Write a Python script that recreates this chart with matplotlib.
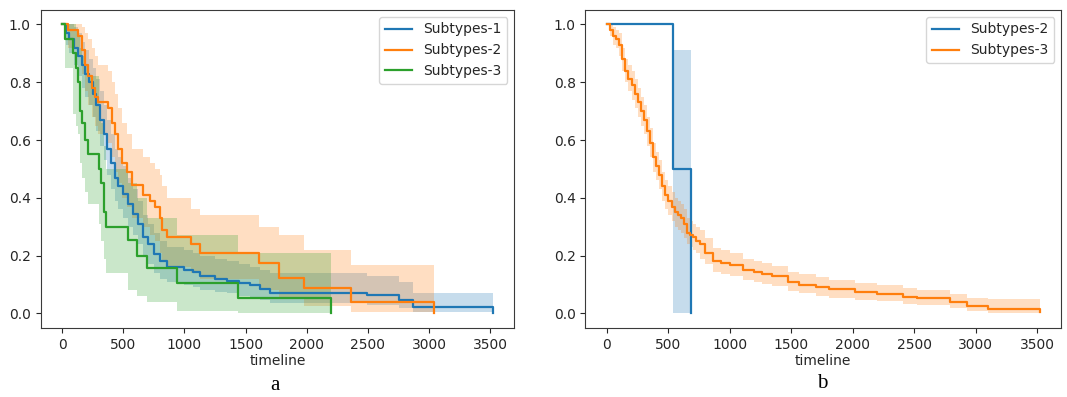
"""
Kaplan-Meier style survival curves for the subtypes, two panels (a, b).
Saves out.png (~1067x397).
"""

import matplotlib
matplotlib.use("Agg")
import matplotlib.pyplot as plt

# -----------------------------------------------------------------------
# Data
# -----------------------------------------------------------------------

# panel a, Subtypes-1
a1_time  = [0, 30, 60, 100, 130, 160, 190, 220, 250, 280, 310, 340, 370, 400, 430, 460,
            500, 540, 580, 620, 665, 700, 750, 800, 860, 1000, 1074, 1128, 1250, 1346,
            1450, 1537, 1620, 1700, 2490, 2750, 2870, 3520]
a1_surv  = [1.0, 0.97, 0.95, 0.92, 0.89, 0.86, 0.83, 0.80, 0.76, 0.72, 0.67, 0.62, 0.57,
            0.52, 0.47, 0.44, 0.414, 0.38, 0.345, 0.31, 0.264, 0.24, 0.206, 0.18, 0.16,
            0.15, 0.143, 0.128, 0.12, 0.114, 0.105, 0.097, 0.085, 0.072, 0.063, 0.045,
            0.023, 0.0]
a1_upper = [1.0, 1.0, 1.0, 0.99, 0.97, 0.94, 0.91, 0.88, 0.85, 0.81, 0.77, 0.72, 0.67,
            0.62, 0.57, 0.54, 0.51, 0.47, 0.43, 0.39, 0.34, 0.31, 0.28, 0.25, 0.23,
            0.22, 0.21, 0.20, 0.19, 0.18, 0.17, 0.16, 0.15, 0.14, 0.13, 0.11, 0.072,
            0.072]
a1_lower = [1.0, 0.93, 0.90, 0.86, 0.82, 0.78, 0.75, 0.72, 0.68, 0.63, 0.58, 0.53, 0.48,
            0.43, 0.39, 0.36, 0.33, 0.30, 0.27, 0.24, 0.20, 0.17, 0.14, 0.12, 0.11,
            0.10, 0.09, 0.08, 0.075, 0.07, 0.06, 0.05, 0.045, 0.035, 0.03, 0.02, 0.005,
            0.005]

# panel a, Subtypes-2
a2_time  = [0, 50, 134, 160, 188, 215, 243, 270, 297, 379, 405, 433, 460, 488, 529, 570,
            660, 720, 760, 800, 820, 860, 1050, 1130, 1610, 1770, 1980, 2360, 3040]
a2_surv  = [1.0, 0.98, 0.96, 0.91, 0.86, 0.82, 0.78, 0.75, 0.73, 0.71, 0.66, 0.62, 0.57,
            0.52, 0.49, 0.443, 0.41, 0.39, 0.37, 0.33, 0.29, 0.265, 0.24, 0.21, 0.173,
            0.123, 0.0865, 0.04, 0.0]
a2_upper = [1.0, 1.0, 1.0, 0.99, 0.97, 0.95, 0.92, 0.89, 0.86, 0.84, 0.80, 0.76, 0.71,
            0.66, 0.62, 0.57, 0.54, 0.52, 0.50, 0.48, 0.44, 0.40, 0.36, 0.34, 0.30, 0.27,
            0.22, 0.167, 0.167]
a2_lower = [1.0, 0.92, 0.89, 0.83, 0.77, 0.72, 0.68, 0.65, 0.62, 0.59, 0.54, 0.49, 0.45,
            0.40, 0.37, 0.33, 0.30, 0.27, 0.25, 0.21, 0.18, 0.16, 0.14, 0.12, 0.08, 0.05,
            0.025, 0.005, 0.005]

# panel a, Subtypes-3
a3_time  = [0, 20, 90, 110, 130, 145, 161, 190, 215, 300, 320, 340, 360, 540, 610, 690,
            940, 1440, 2200]
a3_surv  = [1.0, 0.95, 0.90, 0.85, 0.80, 0.70, 0.66, 0.60, 0.553, 0.50, 0.45, 0.35, 0.30,
            0.254, 0.20, 0.156, 0.104, 0.052, 0.0]
a3_upper = [1.0, 1.0, 1.0, 0.98, 0.96, 0.92, 0.89, 0.86, 0.82, 0.72, 0.66, 0.58, 0.50,
            0.45, 0.40, 0.33, 0.27, 0.21, 0.21]
a3_lower = [1.0, 0.85, 0.69, 0.65, 0.62, 0.52, 0.47, 0.42, 0.38, 0.31, 0.25, 0.19, 0.14,
            0.08, 0.06, 0.04, 0.01, 0.003, 0.003]

# panel b, Subtypes-2
b2_time  = [0, 534, 684]
b2_surv  = [1.0, 0.50, 0.0]
b2_upper = [1.0, 0.911, 0.911]
b2_lower = [1.0, 0.003, 0.003]

# panel b, Subtypes-3
b3_time  = [0, 25, 50, 75, 100, 125, 150, 175, 200, 225, 250, 275, 300, 325, 350, 375,
            400, 425, 450, 475, 500, 525, 550, 575, 600, 625, 650, 675, 700, 725, 757,
            800, 862, 930, 1000, 1110, 1200, 1260, 1340, 1475, 1560, 1700, 1810, 2018,
            2200, 2410, 2520, 2790, 2930, 3100, 3520]
b3_surv  = [1.0, 0.98, 0.96, 0.95, 0.93, 0.88, 0.84, 0.81, 0.79, 0.76, 0.73, 0.70, 0.67,
            0.63, 0.59, 0.54, 0.51, 0.48, 0.44, 0.41, 0.39, 0.37, 0.35, 0.34, 0.33, 0.31,
            0.28, 0.27, 0.265, 0.25, 0.24, 0.21, 0.183, 0.176, 0.168, 0.149, 0.142,
            0.137, 0.129, 0.108, 0.100, 0.092, 0.083, 0.074, 0.068, 0.057, 0.052, 0.04,
            0.025, 0.0145, 0.005]
b3_upper = [1.0, 1.0, 0.99, 0.98, 0.97, 0.92, 0.88, 0.86, 0.84, 0.81, 0.78, 0.75, 0.72,
            0.68, 0.64, 0.59, 0.56, 0.53, 0.49, 0.46, 0.44, 0.42, 0.40, 0.39, 0.38, 0.36,
            0.33, 0.32, 0.31, 0.30, 0.29, 0.26, 0.225, 0.218, 0.208, 0.19, 0.182, 0.175,
            0.165, 0.145, 0.135, 0.125, 0.117, 0.105, 0.098, 0.087, 0.08, 0.068, 0.053,
            0.05, 0.05]
b3_lower = [1.0, 0.96, 0.93, 0.92, 0.89, 0.84, 0.80, 0.77, 0.74, 0.71, 0.68, 0.65, 0.62,
            0.58, 0.54, 0.49, 0.46, 0.43, 0.39, 0.36, 0.34, 0.32, 0.30, 0.29, 0.28, 0.26,
            0.24, 0.23, 0.22, 0.21, 0.19, 0.17, 0.145, 0.138, 0.13, 0.115, 0.108, 0.102,
            0.095, 0.077, 0.07, 0.062, 0.055, 0.047, 0.042, 0.033, 0.029, 0.02, 0.008,
            0.001, 0.0]

TEXT_COL = "#262626"


def draw_km(ax, time, surv, upper, lower, colour, label):
    ax.fill_between(time, lower, upper, step="post", color=colour, alpha=0.25,
                    linewidth=0)
    ax.plot(time, surv, drawstyle="steps-post", color=colour, linewidth=1.6,
            label=label)


def style_axes(ax):
    ax.set_xlim(-176, 3696)
    ax.set_ylim(-0.05, 1.05)
    ax.set_xticks([0, 500, 1000, 1500, 2000, 2500, 3000, 3500])
    ax.set_yticks([0.0, 0.2, 0.4, 0.6, 0.8, 1.0])
    ax.set_xlabel("timeline", fontsize=10, color=TEXT_COL, labelpad=2)
    ax.tick_params(labelsize=10, colors=TEXT_COL)
    for spine in ax.spines.values():
        spine.set_edgecolor("#3a3a3a")
    ax.legend(loc="upper right", fontsize=10, labelcolor=TEXT_COL)


fig = plt.figure(figsize=(10.67, 3.97), dpi=100)
ax_a = fig.add_axes([0.038, 0.174, 0.444, 0.801])
ax_b = fig.add_axes([0.5486, 0.174, 0.446, 0.801])

draw_km(ax_a, a1_time, a1_surv, a1_upper, a1_lower, "tab:blue", "Subtypes-1")
draw_km(ax_a, a2_time, a2_surv, a2_upper, a2_lower, "tab:orange", "Subtypes-2")
draw_km(ax_a, a3_time, a3_surv, a3_upper, a3_lower, "tab:green", "Subtypes-3")
style_axes(ax_a)

draw_km(ax_b, b2_time, b2_surv, b2_upper, b2_lower, "tab:blue", "Subtypes-2")
draw_km(ax_b, b3_time, b3_surv, b3_upper, b3_lower, "tab:orange", "Subtypes-3")
style_axes(ax_b)

fig.text(275 / 1067, 1 - 386 / 397, "a", ha="center", va="center",
         fontsize=15, family="Liberation Serif")
fig.text(822 / 1067, 1 - 384 / 397, "b", ha="center", va="center",
         fontsize=15, family="Liberation Serif")

fig.savefig("out.png", dpi=100)
